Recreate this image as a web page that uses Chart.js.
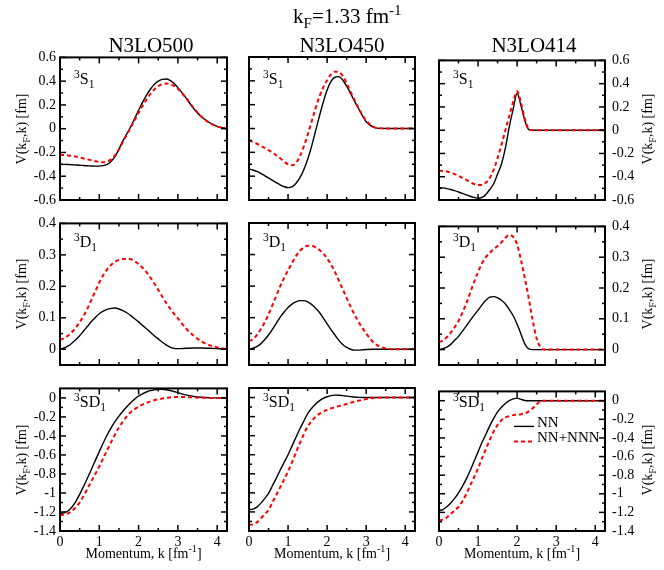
<!DOCTYPE html>
<html>
<head>
<meta charset="utf-8">
<script src="https://cdn.jsdelivr.net/npm/chart.js@4/dist/chart.umd.min.js"></script>
<style>
  body { margin: 0; background: #fff; }
  #wrap { position: relative; width: 664px; height: 570px; overflow: hidden;
          font-family: "Liberation Serif", "Times New Roman", serif; color: #000; }
  #wrap canvas { position: absolute; }
  .txt { position: absolute; white-space: nowrap; line-height: 1; z-index: 2; }
  .txt sub, .txt sup { font-size: 72%; line-height: 0; }
  .rot { transform: rotate(-90deg); text-align: center; width: 160px; }
</style>
</head>
<body>
<div id="wrap"></div>
<script>
// momentum grid, fm^-1
const k = [0,0.1,0.2,0.3,0.4,0.5,0.6,0.7,0.8,0.9,1.0,1.1,1.2,1.3,1.4,1.5,1.6,1.7,1.8,1.9,
  2.0,2.1,2.2,2.3,2.4,2.5,2.6,2.7,2.8,2.9,3.0,3.2,3.4,3.6,3.8,4.0,4.2,4.3];

// 3S1
const s1_500_nn = [-0.300,-0.300,-0.301,-0.303,-0.305,-0.307,-0.310,-0.312,-0.314,-0.315,
  -0.315,-0.311,-0.300,-0.275,-0.236,-0.172,-0.103,-0.043,0.016,0.085,
  0.155,0.222,0.281,0.332,0.373,0.400,0.415,0.418,0.407,0.382,
  0.346,0.262,0.170,0.100,0.052,0.020,0.005,0.002];
const s1_500_nnn = [-0.220,-0.222,-0.225,-0.229,-0.235,-0.242,-0.250,-0.258,-0.266,-0.274,
  -0.280,-0.283,-0.278,-0.258,-0.225,-0.175,-0.112,-0.050,0.010,0.072,
  0.135,0.192,0.245,0.292,0.330,0.358,0.374,0.380,0.375,0.360,
  0.335,0.262,0.175,0.100,0.050,0.018,0.004,0.001];
const s1_450_nn = [-0.340,-0.348,-0.360,-0.376,-0.395,-0.415,-0.435,-0.455,-0.473,-0.488,
  -0.496,-0.490,-0.462,-0.415,-0.348,-0.260,-0.152,-0.025,0.100,0.220,
  0.323,0.395,0.430,0.435,0.407,0.355,0.295,0.230,0.170,0.110,
  0.057,0.010,0.001,0,0,0,0,0];
const s1_450_nnn = [-0.100,-0.113,-0.128,-0.145,-0.163,-0.182,-0.203,-0.225,-0.250,-0.278,
  -0.300,-0.308,-0.290,-0.235,-0.155,-0.055,0.055,0.165,0.265,0.345,
  0.405,0.453,0.477,0.475,0.440,0.380,0.310,0.240,0.175,0.115,
  0.065,0.012,0.001,0,0,0,0,0];
const s1_414_nn = [-0.493,-0.496,-0.502,-0.510,-0.520,-0.531,-0.543,-0.556,-0.568,-0.578,
  -0.585,-0.578,-0.552,-0.510,-0.460,-0.376,-0.290,-0.152,0.030,0.183,
  0.317,0.210,0.080,0.005,0,0,0,0,0,0,
  0,0,0,0,0,0,0,0];
const s1_414_nnn = [-0.348,-0.350,-0.355,-0.365,-0.378,-0.393,-0.410,-0.428,-0.447,-0.462,
  -0.472,-0.470,-0.450,-0.410,-0.340,-0.240,-0.125,0.000,0.124,0.245,
  0.335,0.235,0.095,0.010,0,0,0,0,0,0,
  0,0,0,0,0,0,0,0];

// 3D1
const d1_500_nn = [0.000,0.004,0.010,0.019,0.030,0.043,0.058,0.073,0.088,0.101,
  0.113,0.121,0.127,0.130,0.131,0.128,0.123,0.116,0.107,0.097,
  0.087,0.076,0.065,0.054,0.043,0.033,0.023,0.014,0.007,0.003,
  0.002,0.003,0.004,0.004,0.003,0.002,0.001,0.001];
const d1_500_nnn = [0.030,0.035,0.043,0.054,0.068,0.086,0.106,0.130,0.157,0.185,
  0.212,0.235,0.254,0.268,0.278,0.284,0.287,0.288,0.286,0.280,
  0.271,0.259,0.245,0.228,0.209,0.189,0.168,0.148,0.130,0.113,
  0.098,0.067,0.043,0.025,0.013,0.006,0.002,0.001];
const d1_450_nn = [0.000,0.003,0.008,0.017,0.030,0.045,0.063,0.083,0.102,0.118,
  0.132,0.143,0.150,0.154,0.154,0.150,0.142,0.131,0.117,0.099,
  0.080,0.062,0.045,0.028,0.015,0.006,0.000,-0.003,-0.003,-0.002,
  -0.001,0,0,0,0,0,0,0];
const d1_450_nnn = [0.025,0.032,0.045,0.063,0.085,0.110,0.140,0.170,0.200,0.226,
  0.250,0.273,0.295,0.311,0.322,0.328,0.328,0.323,0.315,0.303,
  0.288,0.268,0.245,0.218,0.190,0.162,0.135,0.110,0.088,0.068,
  0.050,0.020,0.006,0.001,0,0,0,0];
const d1_414_nn = [0.000,0.003,0.008,0.017,0.030,0.043,0.060,0.077,0.095,0.112,
  0.128,0.145,0.160,0.170,0.172,0.168,0.160,0.148,0.130,0.110,
  0.082,0.050,0.018,0.002,0,0,0,0,0,0,
  0,0,0,0,0,0,0,0];
const d1_414_nnn = [0.024,0.030,0.040,0.055,0.073,0.093,0.120,0.150,0.185,0.220,
  0.252,0.280,0.300,0.314,0.326,0.336,0.348,0.363,0.372,0.366,
  0.341,0.290,0.230,0.165,0.094,0.036,0.008,0,0,0,
  0,0,0,0,0,0,0,0];

// 3SD1
const sd1_500_nn = [-1.215,-1.210,-1.190,-1.150,-1.090,-1.015,-0.930,-0.842,-0.750,-0.657,
  -0.565,-0.475,-0.390,-0.315,-0.250,-0.192,-0.140,-0.093,-0.050,-0.013,
  0.020,0.043,0.062,0.076,0.085,0.090,0.090,0.086,0.078,0.067,
  0.055,0.032,0.016,0.007,0.002,0,0,0];
const sd1_500_nnn = [-1.232,-1.230,-1.215,-1.190,-1.150,-1.100,-1.030,-0.955,-0.875,-0.800,
  -0.722,-0.635,-0.550,-0.465,-0.385,-0.310,-0.250,-0.195,-0.150,-0.118,
  -0.092,-0.070,-0.052,-0.037,-0.025,-0.015,-0.007,0.000,0.005,0.008,
  0.010,0.008,0.004,0.001,0,0,0,0];
const sd1_450_nn = [-1.175,-1.170,-1.150,-1.110,-1.060,-1.005,-0.925,-0.845,-0.760,-0.680,
  -0.600,-0.510,-0.420,-0.330,-0.250,-0.170,-0.115,-0.070,-0.035,-0.010,
  0.008,0.020,0.025,0.024,0.020,0.015,0.010,0.005,0.002,0.001,
  0,0,0,0,0,0,0,0];
const sd1_450_nnn = [-1.337,-1.330,-1.310,-1.270,-1.225,-1.180,-1.100,-1.020,-0.940,-0.860,
  -0.775,-0.680,-0.580,-0.480,-0.390,-0.305,-0.250,-0.205,-0.172,-0.148,
  -0.130,-0.115,-0.102,-0.090,-0.078,-0.067,-0.055,-0.044,-0.034,-0.024,
  -0.015,-0.004,0,0,0,0,0,0];
const sd1_414_nn = [-1.180,-1.170,-1.140,-1.100,-1.050,-0.990,-0.920,-0.840,-0.750,-0.650,
  -0.550,-0.450,-0.360,-0.270,-0.190,-0.120,-0.070,-0.030,0.000,0.020,
  0.028,0.015,0.002,0,0,0,0,0,0,0,
  0,0,0,0,0,0,0,0];
const sd1_414_nnn = [-1.285,-1.278,-1.255,-1.215,-1.180,-1.140,-1.080,-1.000,-0.910,-0.820,
  -0.725,-0.620,-0.520,-0.420,-0.330,-0.260,-0.210,-0.180,-0.165,-0.155,
  -0.150,-0.145,-0.135,-0.115,-0.080,-0.040,-0.005,0,0,0,
  0,0,0,0,0,0,0,0];

// ticks
const xMajor = [0, 1, 2, 3, 4];
const xMinor = [0.5, 1.5, 2.5, 3.5];
const yMajorS1 = [-0.6, -0.4, -0.2, 0, 0.2, 0.4, 0.6];
const yMinorS1 = [-0.5, -0.3, -0.1, 0.1, 0.3, 0.5];
const yMajorD1 = [0, 0.1, 0.2, 0.3, 0.4];
const yMinorD1 = [0.05, 0.15, 0.25, 0.35];
const yMajorSD1 = [-1.4, -1.2, -1, -0.8, -0.6, -0.4, -0.2, 0];
const yMinorSD1 = [-1.3, -1.1, -0.9, -0.7, -0.5, -0.3, -0.1];

const models = [`N3LO500`, `N3LO450`, `N3LO414`];
const waves = [`<sup>3</sup>S<sub>1</sub>`, `<sup>3</sup>D<sub>1</sub>`, `<sup>3</sup>SD<sub>1</sub>`];
const seriesNames = [`NN`, `NN+NNN`];

const rows = [
  { min: -0.6, max: 0.6, major: yMajorS1, minor: yMinorS1, nn: [s1_500_nn, s1_450_nn, s1_414_nn], nnn: [s1_500_nnn, s1_450_nnn, s1_414_nnn] },
  { min: -0.05, max: 0.4, major: yMajorD1, minor: yMinorD1, nn: [d1_500_nn, d1_450_nn, d1_414_nn], nnn: [d1_500_nnn, d1_450_nnn, d1_414_nnn] },
  { min: -1.4, max: 0.1, major: yMajorSD1, minor: yMinorSD1, nn: [sd1_500_nn, sd1_450_nn, sd1_414_nn], nnn: [sd1_500_nnn, sd1_450_nnn, sd1_414_nnn] }
];

const colLeft = [60, 249, 439];
const colWidth = [167, 166, 166];
const titleCenter = [151, 342, 534];
const rowTop = [57, 223, 388];
const rowHeight = [143, 142, 143];
const labelDrop = [27, 24, 19];
const SIDE = 60, TOP = 12, BOTTOM = 38;
const FONT = `"Liberation Serif", "Times New Roman", serif`;

const wrap = document.getElementById(`wrap`);

function addText(html, left, top, size, cls) {
  const d = document.createElement(`div`);
  d.className = `txt` + (cls ? ` ` + cls : ``);
  d.innerHTML = html;
  d.style.left = left + `px`;
  d.style.top = top + `px`;
  d.style.fontSize = size + `px`;
  wrap.appendChild(d);
  return d;
}

// inward ticks on all four sides + frame, and the legend swatches
const frameTicks = {
  id: `frameTicks`,
  afterDatasetsDraw(chart, args, opts) {
    const { ctx, chartArea: a, scales: { x, y } } = chart;
    ctx.save();
    ctx.strokeStyle = `#000`;
    ctx.lineWidth = 1.5;
    const seg = (x1, y1, x2, y2) => { ctx.beginPath(); ctx.moveTo(x1, y1); ctx.lineTo(x2, y2); ctx.stroke(); };
    const xt = (v, len) => { const p = x.getPixelForValue(v); seg(p, a.bottom, p, a.bottom - len); seg(p, a.top, p, a.top + len); };
    const yt = (v, len) => { const p = y.getPixelForValue(v); seg(a.left, p, a.left + len, p); seg(a.right, p, a.right - len, p); };
    xMajor.forEach(v => xt(v, 6));
    xMinor.forEach(v => xt(v, 3));
    opts.major.forEach(v => yt(v, 6));
    opts.minor.forEach(v => yt(v, 3));
    ctx.lineWidth = 2;
    ctx.strokeRect(a.left, a.top, a.right - a.left, a.bottom - a.top);
    if (opts.legend) {
      const ds = chart.data.datasets;
      [ds[1], ds[0]].forEach((d, i) => {
        ctx.strokeStyle = d.borderColor;
        ctx.lineWidth = d.borderWidth;
        ctx.setLineDash(d.borderDash || []);
        const yy = a.top + 35 + i * 15;
        seg(a.left + 75, yy, a.left + 95, yy);
      });
    }
    ctx.restore();
  }
};

rows.forEach((row, r) => {
  models.forEach((m, c) => {
    const cv = document.createElement(`canvas`);
    const w = colWidth[c] + 2 * SIDE;
    const h = rowHeight[r] + TOP + BOTTOM;
    cv.width = w; cv.height = h;
    cv.style.left = (colLeft[c] - SIDE) + `px`;
    cv.style.top = (rowTop[r] - TOP) + `px`;
    cv.style.width = w + `px`; cv.style.height = h + `px`;
    wrap.appendChild(cv);
    const yRight = c === 2;

    new Chart(cv, {
      type: `line`,
      data: {
        datasets: [
          { label: seriesNames[1], data: k.map((v, i) => ({ x: v, y: row.nnn[c][i] })),
            borderColor: `#ff0000`, borderWidth: 2, borderDash: [4, 3], pointRadius: 0,
            cubicInterpolationMode: `monotone`, fill: false },
          { label: seriesNames[0], data: k.map((v, i) => ({ x: v, y: row.nn[c][i] })),
            borderColor: `#000000`, borderWidth: 1.4, pointRadius: 0,
            cubicInterpolationMode: `monotone`, fill: false }
        ]
      },
      options: {
        responsive: false,
        animation: false,
        layout: { padding: { left: yRight ? SIDE : 0, right: yRight ? 0 : SIDE, top: TOP, bottom: 0 } },
        plugins: {
          legend: { display: false },
          tooltip: { enabled: false },
          frameTicks: { major: row.major, minor: row.minor, legend: r === 2 && c === 2 }
        },
        scales: {
          x: {
            type: `linear`, min: 0, max: 4.25,
            grid: { display: false, drawTicks: false },
            border: { display: false },
            afterFit: s => { s.height = BOTTOM; },
            afterBuildTicks: s => { s.ticks = xMajor.map(v => ({ value: v })); },
            ticks: { display: r === 2, padding: 3, maxRotation: 0, minRotation: 0, autoSkip: false, color: `#000`,
                     font: { family: FONT, size: 14 }, callback: v => String(v) }
          },
          y: {
            type: `linear`, position: yRight ? `right` : `left`, min: row.min, max: row.max,
            grid: { display: false, drawTicks: false },
            border: { display: false },
            afterFit: s => { s.width = SIDE; },
            afterBuildTicks: s => { s.ticks = row.major.map(v => ({ value: v })); },
            ticks: { display: c !== 1, padding: yRight ? 7 : 4, autoSkip: false, color: `#000`,
                     font: { family: FONT, size: 14 }, callback: v => String(v) }
          }
        }
      },
      plugins: [frameTicks]
    });

    addText(waves[r], colLeft[c] + 14, rowTop[r] + labelDrop[r] - 13.4, 16);
  });
});

// titles
addText(`k<sub>F</sub>=1.33 fm<sup>-1</sup>`, 293, 6, 21);
models.forEach((m, c) => {
  const d = addText(m, titleCenter[c] - 80, 34.5, 21);
  d.style.width = `160px`; d.style.textAlign = `center`;
  const xt = addText(`Momentum, k [fm<sup>-1</sup>]`, colLeft[c] + colWidth[c] / 2 - 80, 547, 14);
  xt.style.width = `160px`; xt.style.textAlign = `center`;
});
rows.forEach((row, r) => {
  const cy = rowTop[r] + rowHeight[r] / 2;
  addText(`V(k<sub>F</sub>,k) [fm]`, 22 - 80, cy - 7, 14, `rot`);
  addText(`V(k<sub>F</sub>,k) [fm]`, 648 - 80, cy - 7, 14, `rot`);
});

// legend labels
addText(seriesNames[0], 537, 414.5, 15);
addText(seriesNames[1], 537, 429.5, 15);
</script>
</body>
</html>
